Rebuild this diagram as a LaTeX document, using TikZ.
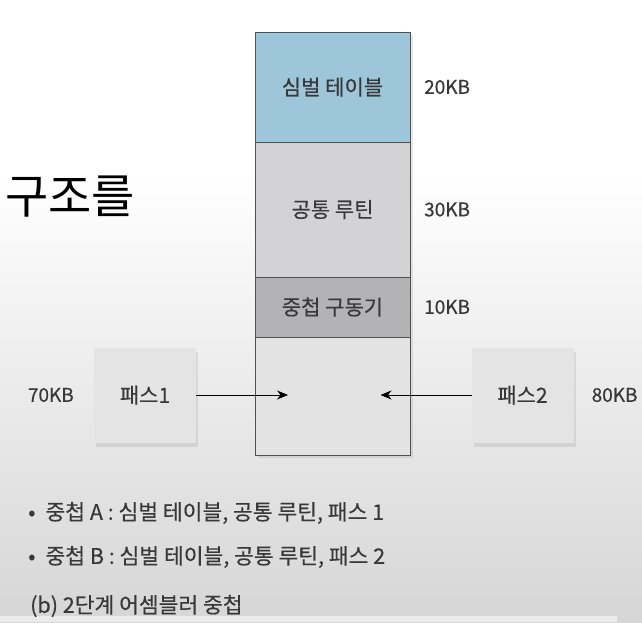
\documentclass[tikz,border=0pt]{standalone}
\usepackage{fontspec}
\setmainfont{Noto Sans CJK KR}[BoldFont={Noto Sans CJK KR}, BoldFeatures={FakeBold=0.35}]
\usetikzlibrary{arrows.meta,positioning,shadows}
\definecolor{symblue}{HTML}{9DC6DB}
\definecolor{routgray}{HTML}{D3D3D5}
\definecolor{drvgray}{HTML}{B3B3B5}
\definecolor{freegray}{HTML}{E3E3E3}
\definecolor{passgray}{HTML}{E4E4E4}
\definecolor{edgegray}{HTML}{505050}
\definecolor{txtgray}{HTML}{383838}
\definecolor{bggray}{HTML}{D6D6D6}
\definecolor{stripgray}{HTML}{EBEBEB}
\tikzset{
  seg/.style={draw=edgegray, line width=0.9pt, rectangle, minimum width=155pt, inner sep=0pt, outer sep=0pt, align=center, font=\fontsize{21}{24}\selectfont\bfseries, text=txtgray, drop shadow={opacity=0.18, shadow xshift=3pt, shadow yshift=-3pt}},
  pass/.style={rectangle, fill=passgray, minimum width=102pt, minimum height=95pt, outer sep=0pt, font=\fontsize{21}{24}\selectfont\bfseries, text=txtgray, drop shadow={opacity=0.18, shadow xshift=2pt, shadow yshift=-4pt}},
  size/.style={inner sep=0pt, font=\fontsize{19}{22}\selectfont\bfseries, text=txtgray},
  note/.style={anchor=west, inner sep=0pt, font=\fontsize{21.5}{24}\selectfont\bfseries, text=txtgray},
  arr/.style={-{Stealth[length=11pt, width=9pt]}, line width=0.7pt},
}

\begin{document}
\begin{tikzpicture}[x=1pt, y=-1pt]
\useasboundingbox (0,0) rectangle (642,622);
\fill[white] (0,0) rectangle (642,170);
\shade[top color=white, bottom color=bggray] (0,170) rectangle (642,622);
\fill[stripgray] (0,616) rectangle (617,622);

\node[font=\fontsize{47}{52}\selectfont] (title) at (70,197) {구조를};

% memory stack
\node[seg, fill=symblue, minimum height=110pt] (sym) at (332.5,87) {심벌 테이블};
\node[seg, fill=routgray, minimum height=135pt, below=0pt of sym] (rout) {공통 루틴};
\node[seg, fill=drvgray, minimum height=60pt, below=0pt of rout] (drv) {중첩 구동기};
\node[seg, fill=freegray, minimum height=118pt, below=0pt of drv] (free) {};

\node[size, right=14pt of sym] (symkb) {20KB};
\node[size, right=14pt of rout] (routkb) {30KB};
\node[size, right=14pt of drv] (drvkb) {10KB};

% passes
\node[pass] (pass1) at (145,395) {패스1};
\node[pass] (pass2) at (522.5,395) {패스2};
\node[size, left=20pt of pass1] (p1kb) {70KB};
\node[size, right=18pt of pass2] (p2kb) {80KB};

\coordinate[right=92pt of pass1.east] (in1);
\coordinate[left=91pt of pass2.west] (in2);
\draw[arr] (pass1.east) -- (in1);
\draw[arr] (pass2.west) -- (in2);

\node[note] (nota) at (28,513) {•\hspace{10pt}중첩 A : 심벌 테이블, 공통 루틴, 패스 1};
\node[note] (notb) at (28,557) {•\hspace{10pt}중첩 B : 심벌 테이블, 공통 루틴, 패스 2};
\node[note] (capt) at (30,606) {(b) 2단계 어셈블러 중첩};

\end{tikzpicture}
\end{document}
